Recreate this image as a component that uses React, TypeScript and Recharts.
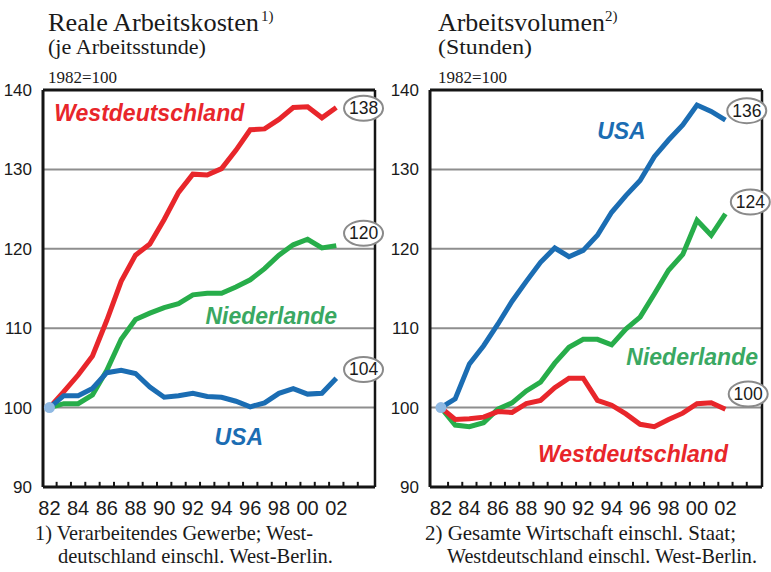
import { LineChart, Line, XAxis, YAxis, CartesianGrid, ReferenceLine, ReferenceDot } from 'recharts';

const years = [1982, 1983, 1984, 1985, 1986, 1987, 1988, 1989, 1990, 1991, 1992, 1993, 1994, 1995, 1996, 1997, 1998, 1999, 2000, 2001, 2002];

// Reale Arbeitskosten je Arbeitsstunde, 1982=100
const kostenWest = [100, 102.0, 104.1, 106.5, 111.0, 115.9, 119.2, 120.6, 123.7, 127.1, 129.4, 129.3, 130.1, 132.4, 135.0, 135.1, 136.3, 137.8, 137.9, 136.5, 137.8];
const kostenNL = [100, 100.5, 100.5, 101.6, 104.7, 108.6, 111.1, 111.9, 112.6, 113.1, 114.2, 114.4, 114.4, 115.2, 116.1, 117.5, 119.2, 120.5, 121.2, 120.1, 120.4];
const kostenUSA = [100, 101.5, 101.5, 102.4, 104.4, 104.7, 104.3, 102.6, 101.3, 101.5, 101.8, 101.4, 101.3, 100.8, 100.1, 100.6, 101.8, 102.4, 101.7, 101.8, 103.7];

// Arbeitsvolumen (Stunden), 1982=100
const volumenWest = [100, 98.5, 98.6, 98.8, 99.5, 99.4, 100.5, 100.9, 102.5, 103.7, 103.7, 100.9, 100.3, 99.2, 97.9, 97.6, 98.5, 99.3, 100.5, 100.6, 99.8];
const volumenNL = [100, 97.8, 97.6, 98.1, 99.8, 100.6, 102.1, 103.2, 105.6, 107.6, 108.6, 108.6, 107.9, 109.9, 111.4, 114.3, 117.3, 119.3, 123.6, 121.7, 124.4];
const volumenUSA = [100, 101.1, 105.5, 107.8, 110.5, 113.4, 115.9, 118.3, 120.1, 119.0, 119.8, 121.7, 124.6, 126.7, 128.6, 131.6, 133.7, 135.6, 138.1, 137.3, 136.2];

const labelYears = [1982, 1984, 1986, 1988, 1990, 1992, 1994, 1996, 1998, 2000, 2002];
const tickMarks = [1982.5, 1983.5, 1984.5, 1985.5, 1986.5, 1987.5, 1988.5, 1989.5, 1990.5, 1991.5, 1992.5, 1993.5, 1994.5, 1995.5, 1996.5, 1997.5, 1998.5, 1999.5, 2000.5, 2001.5, 2002.5, 2003.5];
const yTicks = [90, 100, 110, 120, 130, 140];

const RED = '#e8262b';
const GREEN = '#27ad4a';
const GREEN_TEXT = '#3aa862';
const BLUE = '#1b6db3';
const INK = '#1a1a1a';
const SANS = '"Liberation Sans", Arial, sans-serif';
const SERIF = '"Liberation Serif", "Times New Roman", serif';

const rowsOf = (west: number[], nl: number[], usa: number[]) =>
  years.map((year, i) => ({ year, west: west[i], nl: nl[i], usa: usa[i] }));

type SeriesLabel = { text: string; color: string; x: number; y: number };
type Badge = { text: string; x: number; y: number };

interface PanelProps {
  rows: Array<Record<string, number>>;
  width: number;
  domain: [number, number];
  left: number;
  right: number;
  labels: SeriesLabel[];
  badges: Badge[];
}

function Panel({ rows, width, domain, left, right, labels, badges }: PanelProps) {
  const frame = { stroke: '#151515', strokeWidth: 3 };
  return (
    <LineChart width={width} height={572} data={rows} margin={{ top: 90, right, bottom: 55, left }}>
      <CartesianGrid vertical={false} stroke="#8e8e8e" strokeWidth={2} />
      <XAxis
        dataKey="year"
        type="number"
        domain={domain}
        ticks={labelYears}
        interval={0}
        height={30}
        tickLine={false}
        tickSize={6}
        tickMargin={8}
        axisLine={frame}
        tickFormatter={(v: number) => String(v % 100).padStart(2, '0')}
        tick={{ fontSize: 20, fill: INK, fontFamily: SANS }}
      />
      <YAxis
        type="number"
        domain={[90, 140]}
        ticks={yTicks}
        interval={0}
        width={35}
        tickLine={false}
        tickSize={5}
        tickMargin={6}
        axisLine={frame}
        tick={{ fontSize: 17, fill: INK, fontFamily: SANS }}
      />
      <ReferenceLine y={140} {...frame} />
      <ReferenceLine x={domain[1]} stroke="#151515" strokeWidth={2.5} />
      {tickMarks.map((t) => (
        <ReferenceLine key={t} segment={[{ x: t, y: 90 }, { x: t, y: 90.65 }]} stroke="#151515" strokeWidth={2} />
      ))}
      <Line dataKey="nl" stroke={GREEN} strokeWidth={5} dot={false} activeDot={false} isAnimationActive={false} />
      <Line dataKey="west" stroke={RED} strokeWidth={5} dot={false} activeDot={false} isAnimationActive={false} />
      <Line dataKey="usa" stroke={BLUE} strokeWidth={5} dot={false} activeDot={false} isAnimationActive={false} />
      <ReferenceDot x={1982} y={100} r={5.5} fill="#8fb9e3" stroke="none" />
      {labels.map((l) => (
        <ReferenceDot
          key={l.text}
          x={l.x}
          y={l.y}
          shape={(p: any) => (
            <text x={p.cx} y={p.cy} textAnchor="middle" fill={l.color} fontFamily={SANS} fontSize={23} fontWeight="bold" fontStyle="italic">
              {l.text}
            </text>
          )}
        />
      ))}
      {badges.map((b) => (
        <ReferenceDot
          key={b.text}
          x={b.x}
          y={b.y}
          shape={(p: any) => (
            <g>
              <ellipse cx={p.cx} cy={p.cy} rx={19.5} ry={12.5} fill="#fff" stroke="#8a8a8a" strokeWidth={2} />
              <text x={p.cx} y={p.cy + 6} textAnchor="middle" fill={INK} fontFamily={SANS} fontSize={17.5}>
                {b.text}
              </text>
            </g>
          )}
        />
      ))}
    </LineChart>
  );
}

export default function App() {
  const fit = { lengthAdjust: 'spacingAndGlyphs' as const };
  return (
    <div style={{ position: 'absolute', left: 0, top: 0, width: 771, height: 572, background: '#fff' }}>
      <div style={{ position: 'absolute', left: 0, top: 0 }}>
        <Panel
          rows={rowsOf(kostenWest, kostenNL, kostenUSA)}
          width={385}
          domain={[1981.55, 2004.7]}
          left={8}
          right={10}
          labels={[
            { text: 'Westdeutschland', color: RED, x: 1988.96, y: 136.1 },
            { text: 'Niederlande', color: GREEN_TEXT, x: 1997.47, y: 110.5 },
            { text: 'USA', color: BLUE, x: 1995.2, y: 95.3 },
          ]}
          badges={[
            { text: '138', x: 2003.9, y: 137.7 },
            { text: '120', x: 2003.9, y: 121.95 },
            { text: '104', x: 2003.9, y: 104.8 },
          ]}
        />
      </div>
      <div style={{ position: 'absolute', left: 385, top: 0 }}>
        <Panel
          rows={rowsOf(volumenWest, volumenNL, volumenUSA)}
          width={386}
          domain={[1981.23, 2004.57]}
          left={10}
          right={9}
          labels={[
            { text: 'USA', color: BLUE, x: 1994.69, y: 133.8 },
            { text: 'Niederlande', color: GREEN_TEXT, x: 1999.66, y: 105.4 },
            { text: 'Westdeutschland', color: RED, x: 1995.5, y: 93.2 },
          ]}
          badges={[
            { text: '136', x: 2003.5, y: 137.4 },
            { text: '124', x: 2003.75, y: 125.9 },
            { text: '100', x: 2003.6, y: 101.7 },
          ]}
        />
      </div>
      <svg width={771} height={572} style={{ position: 'absolute', left: 0, top: 0, pointerEvents: 'none' }}>
        <g fontFamily={SERIF} fill={INK}>
          <text x={48} y={30.5} fontSize={25.5} textLength={211} {...fit}>Reale Arbeitskosten</text>
          <text x={261} y={21} fontSize={15}>1)</text>
          <text x={48} y={53.5} fontSize={21} textLength={158} {...fit}>(je Arbeitsstunde)</text>
          <text x={48} y={83} fontSize={17} textLength={69} {...fit}>1982=100</text>
          <text x={35} y={540} fontSize={21} textLength={278} {...fit}>1) Verarbeitendes Gewerbe; West-</text>
          <text x={58} y={562.5} fontSize={21} textLength={275} {...fit}>deutschland einschl. West-Berlin.</text>

          <text x={438} y={30.5} fontSize={25.5} textLength={167} {...fit}>Arbeitsvolumen</text>
          <text x={605} y={21} fontSize={15}>2)</text>
          <text x={438} y={53.5} fontSize={21} textLength={94} {...fit}>(Stunden)</text>
          <text x={438} y={83} fontSize={17} textLength={69} {...fit}>1982=100</text>
          <text x={425} y={540} fontSize={21} textLength={311} {...fit}>2) Gesamte Wirtschaft einschl. Staat;</text>
          <text x={447} y={562.5} fontSize={21} textLength={310} {...fit}>Westdeutschland einschl. West-Berlin.</text>
        </g>
      </svg>
    </div>
  );
}
